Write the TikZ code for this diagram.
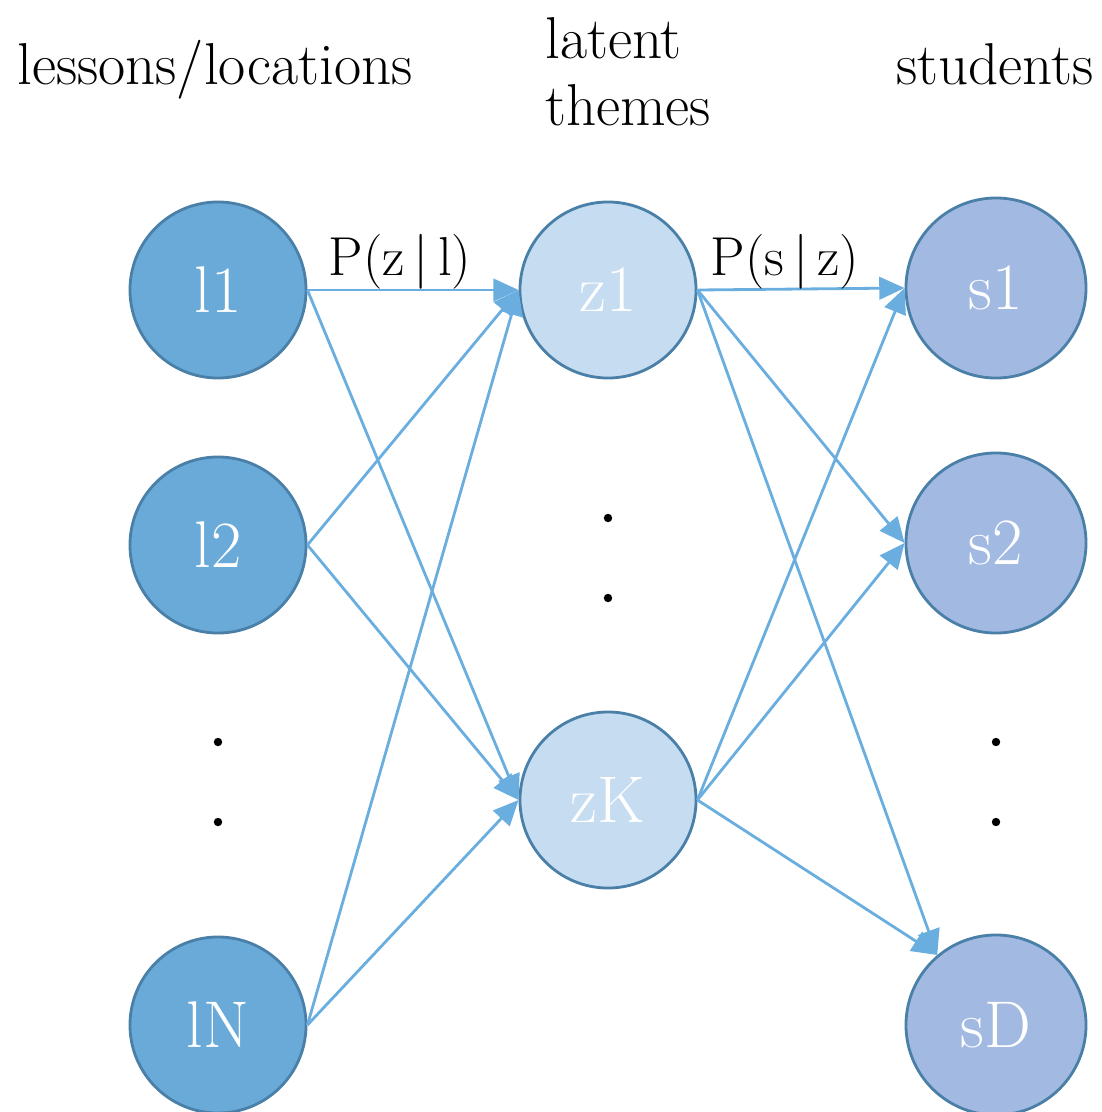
\documentclass[tikz,border=0pt]{standalone}
\usetikzlibrary{arrows.meta}
\definecolor{lfill}{HTML}{6AAAD8}
\definecolor{zfill}{HTML}{C6DCF0}
\definecolor{sfill}{HTML}{A2BAE2}
\definecolor{bord}{HTML}{4A80A8}
\definecolor{edge}{HTML}{6AAEE0}
\begin{document}
\begin{tikzpicture}[x=0.025cm,y=-0.025cm,
  circ/.style={circle,draw=bord,line width=2pt,minimum size=4.4cm,inner sep=0pt,
    text=white,font=\fontsize{47}{50}\selectfont},
  lnode/.style={circ,fill=lfill},
  znode/.style={circ,fill=zfill},
  snode/.style={circ,fill=sfill,minimum size=4.5cm},
  conn/.style={draw=edge,line width=2pt,-{Triangle[length=18pt,width=16pt]}},
  head/.style={font=\fontsize{42}{48}\selectfont,inner sep=0pt},
  plab/.style={font=\fontsize{39}{44}\selectfont,inner sep=0pt},
  vdot/.style={circle,fill=black,inner sep=0pt,minimum size=6pt}]
\useasboundingbox (0,0) rectangle (1101,1112);
\node[lnode] (l1) at (218,290) {l1};
\node[lnode] (l2) at (218,545) {l2};
\node[lnode] (lN) at (218,1025) {lN};
\node[znode] (z1) at (608,290) {z1};
\node[znode] (zK) at (608,800) {zK};
\node[snode] (s1) at (996,288) {s1};
\node[snode] (s2) at (996,543) {s2};
\node[snode] (sD) at (996,1025) {sD};
\foreach \n/\y in {dz1/518,dz2/598}{\node[vdot] (\n) at (608,\y) {};}
\foreach \n/\y in {dl1/742,dl2/822}{\node[vdot] (\n) at (218,\y) {};}
\foreach \n/\y in {ds1/742,ds2/822}{\node[vdot] (\n) at (996,\y) {};}
\foreach \a in {l1,l2,lN}{
  \draw[conn] (\a.east) -- (z1.west);
  \draw[conn] (\a.east) -- (zK.west);
}
\foreach \a in {z1,zK}{
  \draw[conn] (\a.east) -- (s1.west);
  \draw[conn] (\a.east) -- (s2.west);
  \draw[conn] (\a.east) -- (sD.130);
}
\node[plab] (p1) at (400,262) {P(z\,|\,l)};
\node[plab] (p2) at (785,262) {P(s\,|\,z)};
\node[head] (h1) at (215,70) {lessons/locations};
\node[head,anchor=west] (h2a) at (545,38) {latent};
\node[head,anchor=west] (h2b) at (545,105) {themes};
\node[head] (h3) at (995,64) {students};
\end{tikzpicture}
\end{document}
